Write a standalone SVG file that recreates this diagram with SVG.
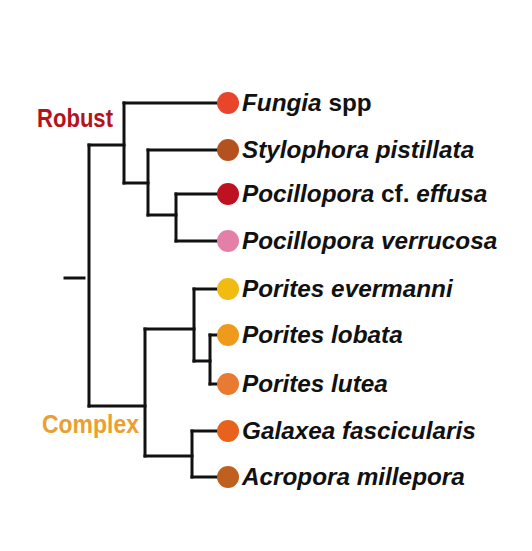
<svg xmlns="http://www.w3.org/2000/svg" width="532" height="551" viewBox="0 0 532 551">
<style>
.br{fill:none;stroke:#111;stroke-width:3;stroke-linecap:square}
.lab{font-family:"Liberation Sans",Arial,sans-serif;font-weight:bold;font-style:italic;font-size:24.3px;fill:#111}
.up{font-style:normal}
.clade{font-family:"Liberation Sans",Arial,sans-serif;font-weight:bold;font-size:25px}
</style>
<rect width="532" height="551" fill="#fff"/>
<g id="connectors">
<path class="br" d="M65,278 H84"/>
<path class="br" d="M89,145 V406"/>
<path class="br" d="M89,145 H124"/>
<path class="br" d="M124,103 V183"/>
<path class="br" d="M124,103 H218"/>
<path class="br" d="M124,183 H148"/>
<path class="br" d="M148,150 V215"/>
<path class="br" d="M148,150 H218"/>
<path class="br" d="M148,215 H176"/>
<path class="br" d="M176,194 V241"/>
<path class="br" d="M176,194 H218"/>
<path class="br" d="M176,241 H218"/>
<path class="br" d="M89,406 H145"/>
<path class="br" d="M145,329 V456"/>
<path class="br" d="M145,329 H194"/>
<path class="br" d="M194,289 V361"/>
<path class="br" d="M194,289 H218"/>
<path class="br" d="M194,361 H210"/>
<path class="br" d="M210,335 V384"/>
<path class="br" d="M210,335 H218"/>
<path class="br" d="M210,384 H218"/>
<path class="br" d="M145,456 H192"/>
<path class="br" d="M192,431 V477"/>
<path class="br" d="M192,431 H218"/>
<path class="br" d="M192,477 H218"/>
</g>
<g id="robust"><text class="clade" x="37" y="127" fill="#b5121b" textLength="76" lengthAdjust="spacingAndGlyphs">Robust</text></g>
<g id="complex"><text class="clade" x="42" y="433" fill="#e9a030" font-size="28" textLength="97" lengthAdjust="spacingAndGlyphs">Complex</text></g>
<g id="fungia"><circle cx="228" cy="103" r="11" fill="#e8452a"/><text class="lab" x="242" y="111">Fungia <tspan class="up">spp</tspan></text></g>
<g id="stylophora"><circle cx="228" cy="150" r="11" fill="#b4521f"/><text class="lab" x="242" y="158">Stylophora pistillata</text></g>
<g id="pocillopora-effusa"><circle cx="228" cy="194" r="11" fill="#be1220"/><text class="lab" x="242" y="202">Pocillopora <tspan class="up">cf.</tspan> effusa</text></g>
<g id="pocillopora-verrucosa"><circle cx="228" cy="241" r="11" fill="#e47fa8"/><text class="lab" x="242" y="249">Pocillopora verrucosa</text></g>
<g id="porites-evermanni"><circle cx="228" cy="289" r="11" fill="#f2bb12"/><text class="lab" x="242" y="297">Porites evermanni</text></g>
<g id="porites-lobata"><circle cx="228" cy="335" r="11" fill="#f09a1c"/><text class="lab" x="242" y="343">Porites lobata</text></g>
<g id="porites-lutea"><circle cx="228" cy="384" r="11" fill="#e97a32"/><text class="lab" x="242" y="392">Porites lutea</text></g>
<g id="galaxea"><circle cx="228" cy="431" r="11" fill="#e8621e"/><text class="lab" x="242" y="439">Galaxea fascicularis</text></g>
<g id="acropora"><circle cx="228" cy="477" r="11" fill="#c0601e"/><text class="lab" x="242" y="485">Acropora millepora</text></g>
</svg>
